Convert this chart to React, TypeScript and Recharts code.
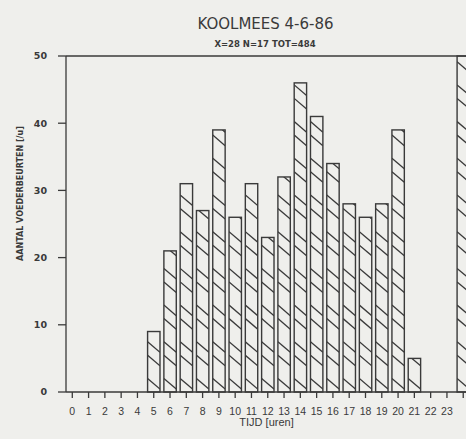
import React from 'react';
import { BarChart, Bar, XAxis, YAxis, ReferenceLine } from 'recharts';

const hours = [0, 1, 2, 3, 4, 5, 6, 7, 8, 9, 10, 11, 12, 13, 14, 15, 16, 17, 18, 19, 20, 21, 22, 23, 24];
const counts = [0, 0, 0, 0, 0, 9, 21, 31, 27, 39, 26, 31, 23, 32, 46, 41, 34, 28, 26, 28, 39, 5, 0, 0, 50];
const yTicks = [0, 10, 20, 30, 40, 50];
const xTicks = hours;
const title = 'KOOLMEES 4-6-86';
const subtitle = 'X=28 N=17 TOT=484';
const xLabel = 'TIJD [uren]';
const yLabel = 'AANTAL VOEDERBEURTEN [/u]';

const data = hours.map((h, i) => ({ hour: h, count: counts[i] }));

const INK = '#3a3a3a';
const PAPER = '#efefec';

function HatchBar(props: any) {
  const { x, y, width, height, index } = props;
  if (!height || height <= 0) return null;
  const bottom = y + height;
  const drop = width * 0.85;
  const lines: any[] = [];
  for (let k = 0; k * 36.7 <= height + drop; k++) {
    for (const off of [0, 13.5]) {
      const h = k * 36.7 + off;
      const y1 = bottom - h;
      lines.push(<line key={`${k}-${off}`} x1={x} y1={y1} x2={x + width} y2={y1 + drop} />);
    }
  }
  const id = `hb-${index}`;
  return (
    <g>
      <defs>
        <clipPath id={id}>
          <rect x={x} y={y} width={width} height={height} />
        </clipPath>
      </defs>
      <g clipPath={`url(#${id})`} stroke={INK} strokeWidth={1.3}>
        {lines}
      </g>
      <rect x={x} y={y} width={width} height={height} fill="none" stroke={INK} strokeWidth={1.4} />
    </g>
  );
}

export default function App() {
  return (
    <div style={{ position: 'absolute', left: 0, top: 0, width: 466, height: 439, background: PAPER, overflow: 'hidden' }}>
      <svg width={466} height={60} style={{ position: 'absolute', left: 0, top: 0 }}>
        <text x={265.5} y={28.5} textAnchor="middle" fontFamily="DejaVu Sans" fontSize={15} fill={INK}>
          {title}
        </text>
        <text x={265} y={46.5} textAnchor="middle" fontFamily="DejaVu Sans" fontWeight="bold" fontSize={8.5} fill={INK}>
          {subtitle}
        </text>
      </svg>
      <div style={{ position: 'absolute', left: 0, top: 0 }}>
        <BarChart width={466} height={439} data={data} margin={{ top: 56, right: 0, bottom: 0, left: 0 }}>
          <XAxis
            type="number"
            dataKey="hour"
            domain={[-0.386, 24.17]}
            ticks={xTicks}
            interval={0}
            tickFormatter={(v: number) => (v === 24 ? '' : String(v))}
            height={47}
            tickSize={6}
            tickMargin={10}
            stroke={INK}
            strokeWidth={1.3}
            tick={{ fill: INK, fontFamily: 'Liberation Sans', fontSize: 10.5 }}
            label={{
              content: () => (
                <text x={266.5} y={426} textAnchor="middle" fontFamily="Liberation Sans" fontSize={11} fill={INK}>
                  {xLabel}
                </text>
              ),
            }}
          />
          <YAxis
            type="number"
            domain={[0, 50]}
            ticks={yTicks}
            width={66}
            tickSize={8}
            tickMargin={11}
            stroke={INK}
            strokeWidth={1.3}
            tick={{ fill: INK, fontFamily: 'DejaVu Sans', fontWeight: 'bold', fontSize: 9.5 }}
            label={{
              content: () => (
                <text
                  x={23}
                  y={193.5}
                  transform="rotate(-90 23 193.5)"
                  textAnchor="middle"
                  fontFamily="DejaVu Sans"
                  fontWeight="bold"
                  fontSize={8}
                  fill={INK}
                >
                  {yLabel}
                </text>
              ),
            }}
          />
          <ReferenceLine y={50} stroke={INK} strokeWidth={1.3} />
          <Bar dataKey="count" barSize={12.4} isAnimationActive={false} shape={<HatchBar />} />
        </BarChart>
      </div>
    </div>
  );
}
